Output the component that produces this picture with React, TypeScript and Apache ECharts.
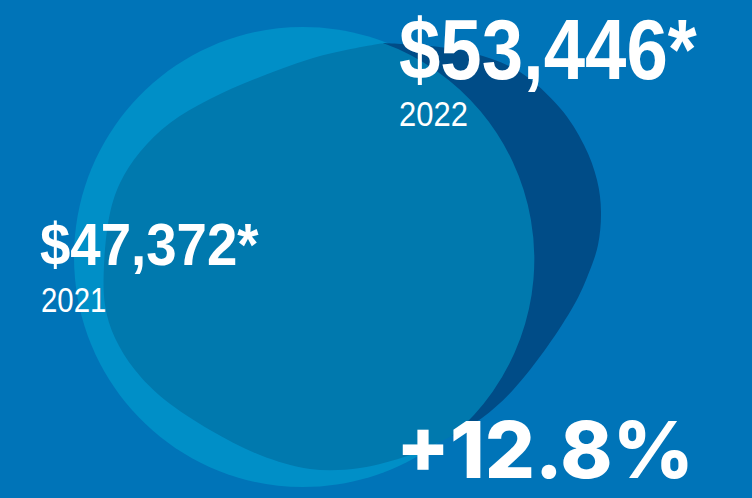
import React, { useEffect, useRef } from "react";
import * as echarts from "echarts";

// ---- data ----
const years = ["2021", "2022"];
const incomes = [47372, 53446];
const changePct = [12.8];

// ---- shape geometry (decorative bubbles) ----
type P = [number, number];
const lightEllipse = { cx: 303, cy: 257, rx: 229, ry: 230 };
const tealLeft: P[] = [
  [383, 43], [320, 56], [260, 77], [210, 99], [170, 123], [140, 152], [120, 183], [109, 218],
  [104, 265], [105, 305], [115, 338], [135, 370], [165, 400], [210, 430], [260, 455], [310, 469],
  [360, 468], [410, 455], [452, 436],
];
const darkOuter: P[] = [
  [383, 43], [430, 46], [473, 53], [520, 72], [560, 108], [584, 145], [597, 180], [601, 212],
  [598, 245], [588, 275], [574, 305], [547, 347], [513, 390], [482, 418], [452, 436],
];

function f(n: number) {
  return n.toFixed(2);
}
function crPath(pts: P[], closed: boolean, moveTo = true): string {
  const n = pts.length;
  const get = (i: number) => (closed ? pts[(i + n) % n] : pts[Math.max(0, Math.min(n - 1, i))]);
  let d = moveTo ? `M ${f(pts[0][0])} ${f(pts[0][1])} ` : "";
  const segs = closed ? n : n - 1;
  for (let i = 0; i < segs; i++) {
    const p0 = get(i - 1), p1 = get(i), p2 = get(i + 1), p3 = get(i + 2);
    const c1x = p1[0] + (p2[0] - p0[0]) / 6, c1y = p1[1] + (p2[1] - p0[1]) / 6;
    const c2x = p2[0] - (p3[0] - p1[0]) / 6, c2y = p2[1] - (p3[1] - p1[1]) / 6;
    d += `C ${f(c1x)} ${f(c1y)} ${f(c2x)} ${f(c2y)} ${f(p2[0])} ${f(p2[1])} `;
  }
  if (closed) d += "Z";
  return d;
}

const p1 = tealLeft[0];
const tealD =
  crPath(tealLeft, false) +
  `A ${lightEllipse.rx} ${lightEllipse.ry} 0 0 0 ${p1[0]} ${p1[1]} Z`;
const darkD = crPath(darkOuter, false) + "L 470 380 L 480 200 L 430 90 Z";

const fmtMoney = (v: number) => "$" + v.toLocaleString("en-US") + "*";
const SANS = "'Liberation Sans', Arial, sans-serif";

export default function App() {
  const ref = useRef<HTMLDivElement>(null);
  useEffect(() => {
    if (!ref.current) return;
    echarts.graphic.registerShape("darkBubble", echarts.graphic.extendPath(darkD, {}));
    echarts.graphic.registerShape("tealBubble", echarts.graphic.extendPath(tealD, {}));
    const chart = echarts.init(ref.current, undefined, { renderer: "svg" });
    const text = (
      x: number, y: number, t: string, size: number, weight: any, family: string, sx: number
    ) => ({
      type: "text",
      x,
      y,
      scaleX: sx,
      silent: true,
      style: {
        text: t,
        fill: "#ffffff",
        fontSize: size,
        fontWeight: weight,
        fontFamily: family,
        lineHeight: Math.round(size * 0.8),
        align: "left",
        verticalAlign: "middle",
      },
    });
    chart.setOption({
      animation: false,
      backgroundColor: "#0074b8",
      graphic: [
        {
          type: "ellipse",
          silent: true,
          shape: lightEllipse,
          style: { fill: "#008fc7" },
        },
        { type: "darkBubble", x: 0, y: 0, silent: true, style: { fill: "#004c87" } },
        { type: "tealBubble", x: 0, y: 0, silent: true, style: { fill: "#0079ae" } },
        text(399, 49, fmtMoney(incomes[1]), 86, "bold", SANS, 0.865),
        text(399, 114, years[1], 36, "normal", SANS, 0.86),
        text(40, 244, fmtMoney(incomes[0]), 60, "bold", SANS, 0.91),
        text(41, 300, years[0], 35, "normal", SANS, 0.84),
        text(396, 450, "+" + changePct[0].toFixed(1) + "%", 78, 800, "Inter, 'Open Sans', sans-serif", 1.01),
      ],
    });
    return () => chart.dispose();
  }, []);
  return (
    <div
      ref={ref}
      style={{ position: "fixed", left: 0, top: 0, width: 752, height: 498 }}
    />
  );
}
